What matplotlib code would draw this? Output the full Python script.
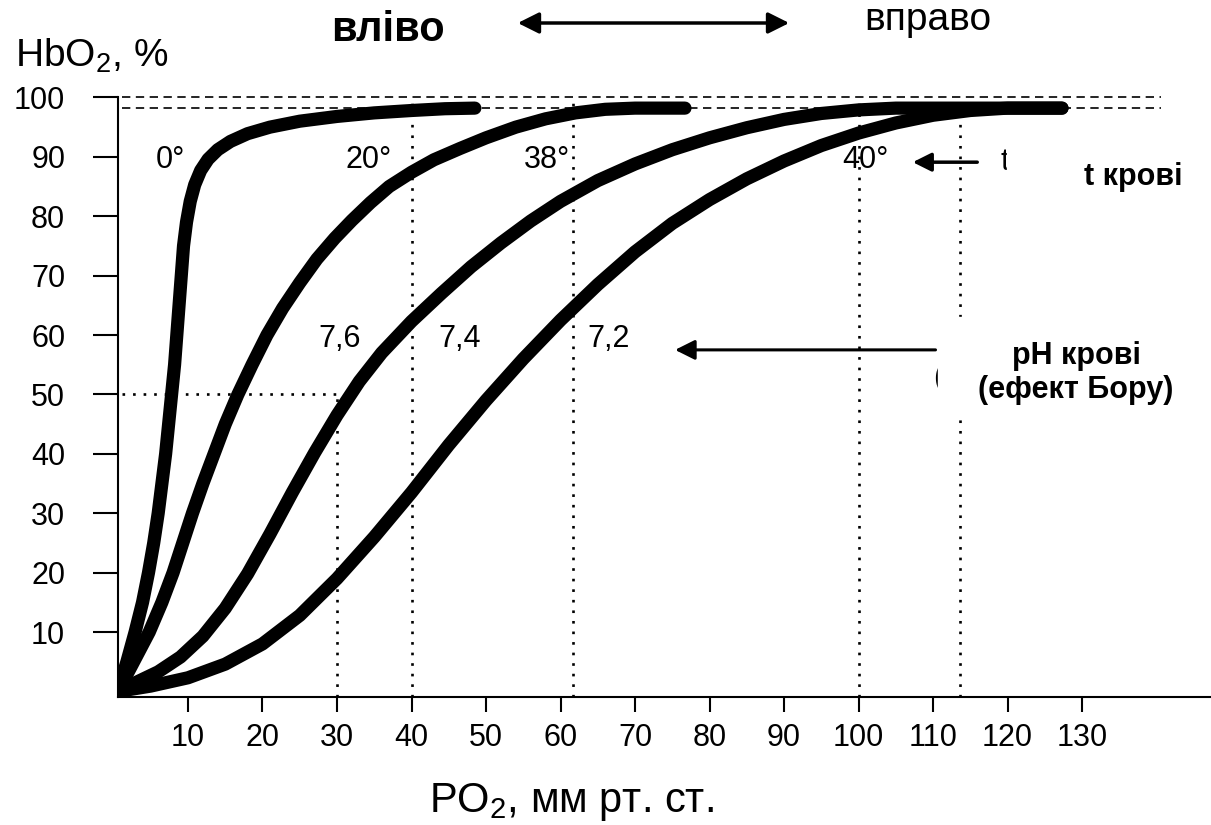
import matplotlib
matplotlib.use("Agg")
import matplotlib.pyplot as plt
from matplotlib.patches import Rectangle, FancyArrowPatch

plt.rcParams['font.family'] = ['Liberation Sans', 'DejaVu Sans']
plt.rcParams['mathtext.default'] = 'regular'

# curves (PO2, HbO2 %)
x_0deg = [0.6, 1.8, 2.9, 3.9, 4.7, 5.4, 6.0, 6.5, 7.0, 7.4, 7.8, 8.2, 8.5, 8.8, 9.1, 9.4,
          9.8, 10.3, 10.9, 11.7, 12.7, 14, 15.7, 18, 21, 25, 30, 35, 40, 44.5, 48.5]
y_0deg = [0, 5, 10, 15, 20, 25, 30, 35, 40, 45, 50, 55, 60, 65, 70, 75,
          79, 82.5, 85.3, 87.7, 89.6, 91.2, 92.6, 93.9, 95, 96, 96.8, 97.4, 97.8, 98.1, 98.2]

x_20deg = [0.6, 2.5, 4.8, 6.5, 8, 9.3, 10.6, 12, 13.5, 15, 16.7, 18.6, 20.6, 22.7, 25, 27.3,
           29.7, 32, 34.5, 37, 40, 43, 46.5, 50, 54, 58, 62, 66, 70, 76.7]
y_20deg = [0, 4.5, 10, 15, 20, 25, 30, 35, 40, 45, 50, 55, 60, 64.5, 68.8, 72.8,
           76.3, 79.3, 82.3, 85, 87.4, 89.5, 91.4, 93.2, 95, 96.4, 97.4, 98, 98.2, 98.2]

x_38deg = [0.6, 3, 6, 9, 12, 15, 18, 21, 24, 27, 30, 33, 36, 40, 44, 48, 52, 56,
           60, 65, 70, 75, 80, 85, 90, 95, 100, 105, 127.3]
y_38deg = [0, 1.5, 3.3, 5.8, 9.3, 14, 19.8, 26.5, 33.5, 40.2, 46.5, 52.2, 57, 62.3, 67,
           71.5, 75.5, 79.2, 82.5, 86, 88.8, 91.2, 93.2, 94.9, 96.3, 97.3, 97.9, 98.2, 98.2]

x_40deg = [0.6, 5, 10, 15, 20, 25, 30, 35, 40, 45, 50, 55, 60, 65, 70, 75, 80, 85,
           90, 95, 100, 105, 110, 115, 120, 127.3]
y_40deg = [0, 0.9, 2.3, 4.6, 8, 12.8, 19, 26, 33.5, 41.5, 49, 56, 62.5, 68.5, 74, 78.8,
           82.8, 86.3, 89.3, 91.9, 94, 95.7, 97, 97.8, 98.2, 98.2]

x_ticks = [10, 20, 30, 40, 50, 60, 70, 80, 90, 100, 110, 120, 130]
y_ticks = [10, 20, 30, 40, 50, 60, 70, 80, 90, 100]

guide_x = [30, 40, 61.7, 100, 113.6]
guide_top = [50, 99, 99, 99, 99]
sat_levels = [100, 98.2]

temp_labels = ['0°', '20°', '38°', '40°']
temp_x = [7.6, 34.3, 58.2, 100.9]
ph_labels = ['7,6', '7,4', '7,2']
ph_x = [30.4, 46.5, 66.4]

fig = plt.figure(figsize=(12.11, 8.25), dpi=100)
ax = fig.add_axes([0.0974, 0.1552, 0.9026, 0.7303])
ax.set_xlim(0.6, 147.3)
ax.set_ylim(-0.93, 100.5)

for sp in ['top', 'right']:
    ax.spines[sp].set_visible(False)
ax.spines['left'].set_bounds(-0.93, 100)
ax.spines['left'].set_linewidth(1.5)
ax.spines['bottom'].set_linewidth(1.5)

ax.set_xticks(x_ticks)
ax.set_yticks(y_ticks)
ax.tick_params(axis='y', length=18, width=1.5, pad=20, labelsize=22)
ax.tick_params(axis='x', length=11, width=1.5, pad=8, labelsize=22)

# guide lines
ax.hlines(sat_levels, 1.1, 140.6, colors='black', lw=1.2, linestyles=(0, (5, 3.3)))
ax.vlines(guide_x, -0.93, guide_top, colors='black', lw=1.9, linestyles=(0, (1, 3)))
ax.hlines(50, 1.2, 30, colors='black', lw=1.9, linestyles=(0, (1, 3)))

for xs, ys in [(x_0deg, y_0deg), (x_20deg, y_20deg), (x_38deg, y_38deg), (x_40deg, y_40deg)]:
    ax.plot(xs, ys, color='black', lw=9.5, solid_capstyle='round', solid_joinstyle='round', zorder=3)

for lab, x in zip(temp_labels, temp_x):
    ax.text(x, 89.5, lab, fontsize=22, ha='center', va='center')
for lab, x in zip(ph_labels, ph_x):
    ax.text(x, 59.3, lab, fontsize=22, ha='center', va='center')

# arrows
ax.annotate('', xy=(106.9, 89.1), xytext=(116.3, 89.1),
            arrowprops=dict(arrowstyle='-|>', color='black', lw=2.5, mutation_scale=28),
            annotation_clip=False)
ax.annotate('', xy=(75, 57.5), xytext=(110.7, 57.5),
            arrowprops=dict(arrowstyle='-|>', color='black', lw=2.2, mutation_scale=30),
            annotation_clip=False)

# leftovers of the covered original captions
ax.text(119.0, 89.1, 't', fontsize=22, ha='left', va='center')
ax.text(110.0, 52.8, '(', fontsize=22, ha='left', va='center')
ax.add_patch(Rectangle((119.9, 82.5), 30, 10.5, color='white', zorder=5, clip_on=False))
ax.add_patch(Rectangle((110.7, 46), 40, 17, color='white', zorder=5, clip_on=False))
ax.text(136.8, 86.6, 't крові', fontsize=22, fontweight='bold', ha='center', va='center', zorder=6)
ax.text(129.2, 53.6, 'pH крові\n(ефект Бору)', fontsize=22, fontweight='bold',
        ha='center', va='center', linespacing=1.15, zorder=6)

# titles around the plot
fig.text(15 / 1211, 1 - 67 / 825, 'HbO$_2$, %', fontsize=28, ha='left', va='baseline')
fig.text(571 / 1211, 1 - 812 / 825, 'PO$_2$, мм рт. ст.', fontsize=30, ha='center', va='baseline')
fig.text(388 / 1211, 1 - 41 / 825, 'вліво', fontsize=30, fontweight='bold', ha='center', va='baseline')
fig.text(928 / 1211, 1 - 30 / 825, 'вправо', fontsize=28, ha='center', va='baseline')
fig.add_artist(FancyArrowPatch(
    (515 / 1211, 1 - 23 / 825), (792 / 1211, 1 - 23 / 825), transform=fig.transFigure,
    arrowstyle='<|-|>', color='black', lw=2.5, mutation_scale=32))

fig.savefig('out.png', dpi=100)
